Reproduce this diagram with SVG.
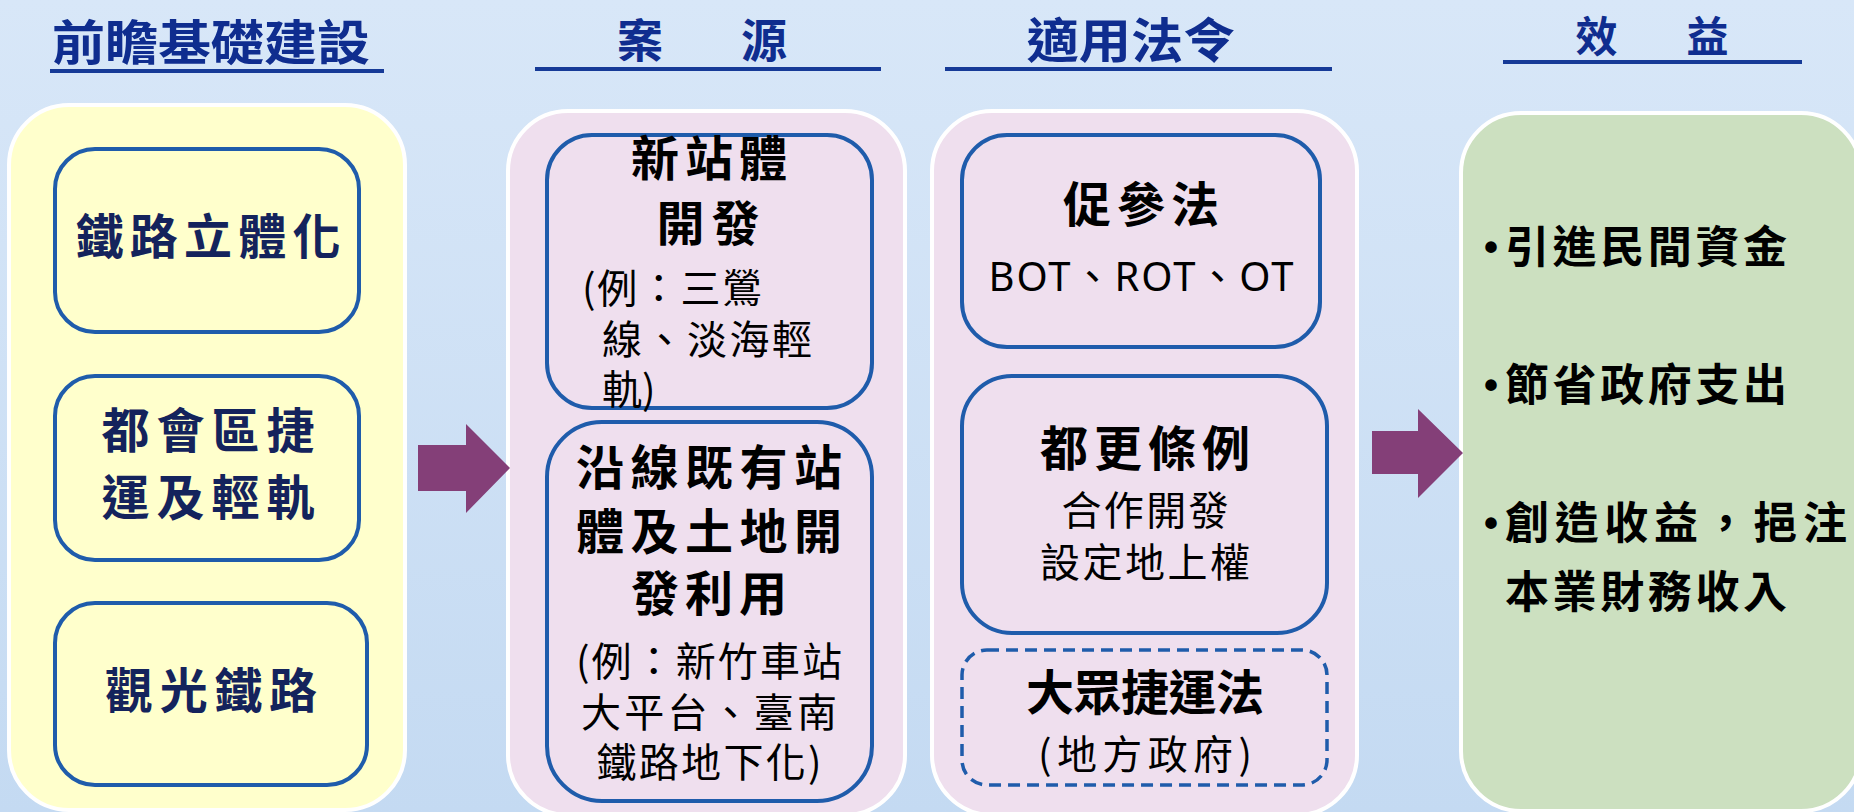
<svg xmlns="http://www.w3.org/2000/svg" width="1854" height="812" viewBox="0 0 1854 812">
<defs>
<linearGradient id="bg" x1="0" y1="0" x2="0" y2="1">
<stop offset="0" stop-color="#d8e7f8"/>
<stop offset="1" stop-color="#c4daf2"/>
</linearGradient>
<style>
.title{font-family:"Noto Sans CJK TC","Noto Sans CJK SC",sans-serif;font-weight:700;fill:#0f2d8f;text-anchor:middle}
.uline{stroke:#163a97;stroke-width:4}
.panel{stroke:#ffffff;stroke-width:4}
.box{fill:none;stroke:#1f5cab;stroke-width:4}
.dash{fill:none;stroke:#1f5cab;stroke-width:3.5;stroke-dasharray:12 7}
.navy{font-family:"Noto Sans CJK TC","Noto Sans CJK SC",sans-serif;font-weight:700;font-size:48px;fill:#14235c;text-anchor:middle}
.bold{font-family:"Noto Sans CJK TC","Noto Sans CJK SC",sans-serif;font-weight:700;font-size:48px;fill:#000000;text-anchor:middle}
.reg{font-family:"Noto Sans CJK TC","Noto Sans CJK SC",sans-serif;font-weight:400;font-size:40px;fill:#000000}
.mid{text-anchor:middle}
.ben{font-family:"Noto Sans CJK TC","Noto Sans CJK SC",sans-serif;font-weight:700;font-size:44px;fill:#000000}
.bul{font-family:"Liberation Sans",sans-serif;font-weight:700;font-size:40px;fill:#000000}
.arrow{fill:#843f78}
</style>
</defs>
<rect x="0" y="0" width="1854" height="812" fill="url(#bg)"/>

<g id="headers">
<text class="title" x="211" y="60" font-size="48" textLength="318" lengthAdjust="spacingAndGlyphs">前瞻基礎建設</text>
<line class="uline" x1="50" y1="71" x2="384" y2="71"/>
<text class="title" x="702" y="57" font-size="46" textLength="170" lengthAdjust="spacing">案　源</text>
<line class="uline" x1="535" y1="69" x2="881" y2="69"/>
<text class="title" x="1131" y="58" font-size="48" textLength="209" lengthAdjust="spacingAndGlyphs">適用法令</text>
<line class="uline" x1="945" y1="69" x2="1332" y2="69"/>
<text class="title" x="1652" y="52" font-size="42" textLength="153" lengthAdjust="spacing">效　益</text>
<line class="uline" x1="1503" y1="62" x2="1802" y2="62"/>
</g>

<g id="panel-infra">
<rect class="panel" x="9" y="105" width="396" height="705" rx="60" fill="#ffffcc"/>
</g>
<g id="panel-source">
<rect class="panel" x="508" y="111" width="397" height="704" rx="60" fill="#efdfee"/>
</g>
<g id="panel-law">
<rect class="panel" x="932" y="111" width="425" height="704" rx="60" fill="#efdfee"/>
</g>
<g id="panel-benefit">
<rect class="panel" x="1461" y="113" width="400" height="698" rx="60" fill="#cce0c0"/>
</g>

<g id="node-rail-elevation">
<rect class="box" x="55" y="149" width="304" height="183" rx="40"/>
<text class="navy" x="208" y="254" textLength="265" lengthAdjust="spacing">鐵路立體化</text>
</g>
<g id="node-metro">
<rect class="box" x="55" y="376" width="304" height="184" rx="40"/>
<text class="navy" x="208" y="448" textLength="213" lengthAdjust="spacing">都會區捷</text>
<text class="navy" x="208" y="515" textLength="213" lengthAdjust="spacing">運及輕軌</text>
</g>
<g id="node-tourism-rail">
<rect class="box" x="55" y="603" width="312" height="182" rx="40"/>
<text class="navy" x="211" y="708" textLength="212" lengthAdjust="spacing">觀光鐵路</text>
</g>

<g id="node-new-station">
<rect class="box" x="547" y="135" width="325" height="273" rx="45"/>
<text class="bold" x="709" y="176" textLength="156" lengthAdjust="spacing">新站體</text>
<text class="bold" x="708" y="241" textLength="103" lengthAdjust="spacing">開發</text>
<text class="reg" x="582" y="303" textLength="180" lengthAdjust="spacing">(例：三鶯</text>
<text class="reg" x="602" y="354" textLength="210" lengthAdjust="spacing">線、淡海輕</text>
<text class="reg" x="602" y="404">軌)</text>
</g>
<g id="node-existing-station">
<rect class="box" x="547" y="422" width="325" height="379" rx="55"/>
<text class="bold" x="709" y="485" textLength="266" lengthAdjust="spacing">沿線既有站</text>
<text class="bold" x="709" y="549" textLength="266" lengthAdjust="spacing">體及土地開</text>
<text class="bold" x="709" y="611" textLength="156" lengthAdjust="spacing">發利用</text>
<text class="reg mid" x="709" y="676" textLength="266" lengthAdjust="spacing">(例：新竹車站</text>
<text class="reg mid" x="709" y="727" textLength="256" lengthAdjust="spacing">大平台、臺南</text>
<text class="reg mid" x="709" y="777" textLength="225" lengthAdjust="spacing">鐵路地下化)</text>
</g>

<g id="node-ppp-act">
<rect class="box" x="962" y="135" width="358" height="212" rx="45"/>
<text class="bold" x="1141" y="222" textLength="156" lengthAdjust="spacing">促參法</text>
<text class="reg mid" x="1141" y="291" font-size="42" textLength="305" lengthAdjust="spacing" style="font-family:'Noto Sans','Noto Sans CJK TC',sans-serif">BOT、ROT、OT</text>
</g>
<g id="node-urban-renewal">
<rect class="box" x="962" y="376" width="365" height="257" rx="50"/>
<text class="bold" x="1145" y="466" textLength="210" lengthAdjust="spacing">都更條例</text>
<text class="reg mid" x="1145" y="525" textLength="167" lengthAdjust="spacing">合作開發</text>
<text class="reg mid" x="1145" y="577" textLength="210" lengthAdjust="spacing">設定地上權</text>
</g>
<g id="node-mrt-act">
<rect class="dash" x="962" y="650" width="365" height="135" rx="25"/>
<text class="bold" x="1145" y="710" font-size="46" textLength="238" lengthAdjust="spacing">大眾捷運法</text>
<text class="reg mid" x="1145" y="769" font-size="44" textLength="214" lengthAdjust="spacing">(地方政府)</text>
</g>

<g id="node-benefits">
<text class="bul" x="1484" y="261">•</text>
<text class="ben" x="1505" y="263" textLength="282" lengthAdjust="spacing">引進民間資金</text>
<text class="bul" x="1484" y="399">•</text>
<text class="ben" x="1505" y="401" textLength="282" lengthAdjust="spacing">節省政府支出</text>
<text class="bul" x="1484" y="537">•</text>
<text class="ben" x="1505" y="539" textLength="342" lengthAdjust="spacing">創造收益，挹注</text>
<text class="ben" x="1505" y="608" textLength="282" lengthAdjust="spacing">本業財務收入</text>
</g>

<g id="connectors">
<polygon class="arrow" points="418,445 466,445 466,424 510,468 466,513 466,491 418,491"/>
<polygon class="arrow" points="1372,431 1418,431 1418,409 1463,453 1418,498 1418,474 1372,474"/>
</g>
</svg>
